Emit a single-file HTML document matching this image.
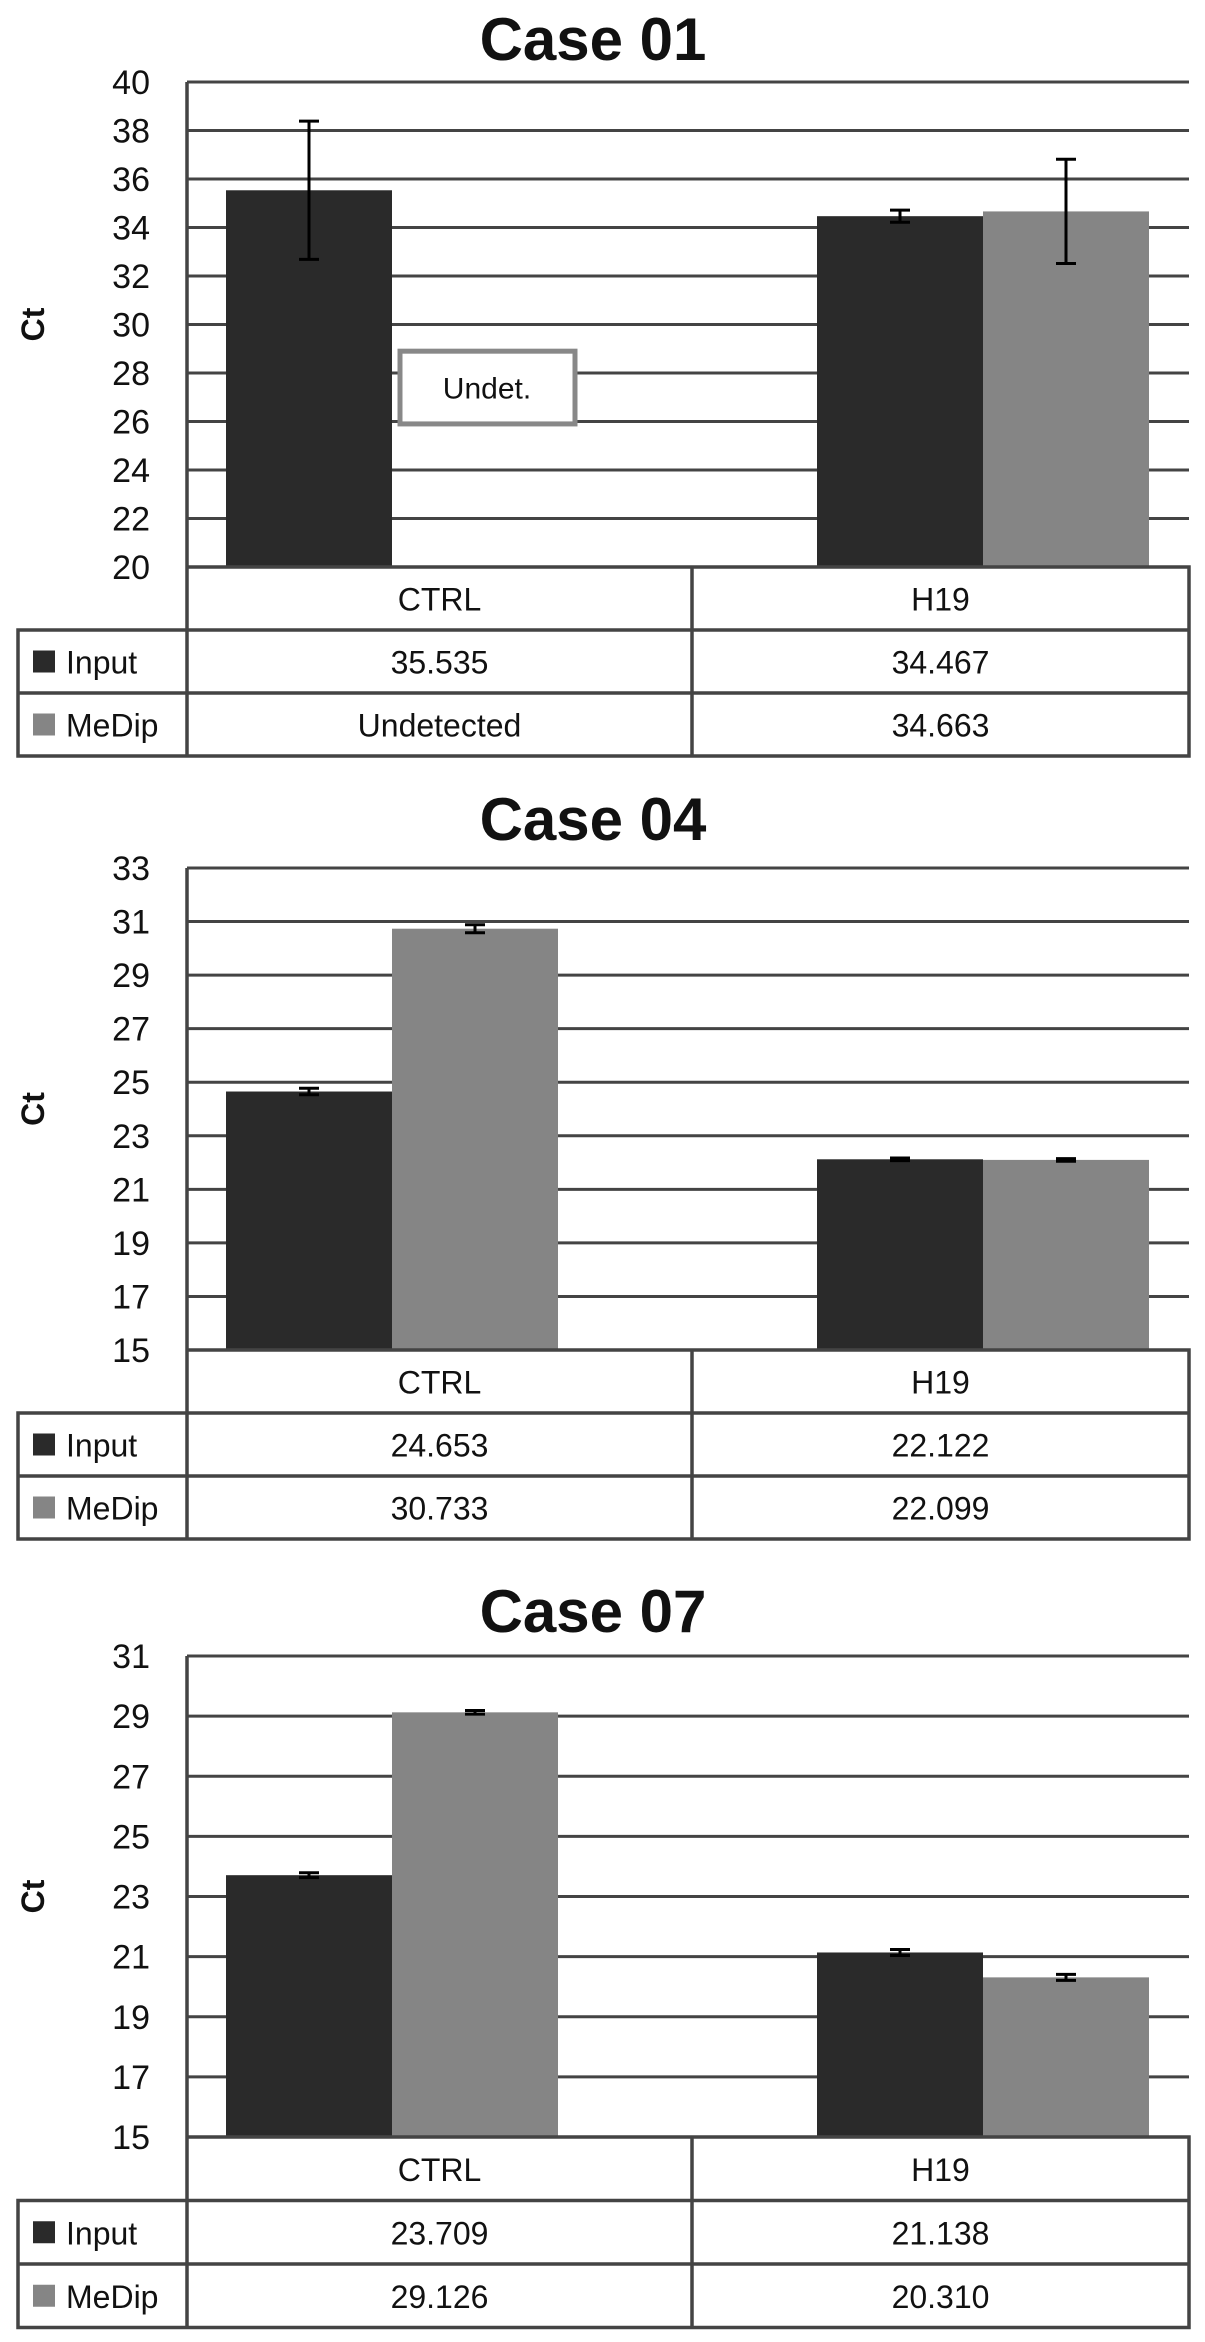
<!DOCTYPE html>
<html><head><meta charset="utf-8"><style>
html,body{margin:0;padding:0;background:#fff;}
svg{display:block;}
text{font-family:"Liberation Sans",sans-serif;fill:#111;}
</style></head><body>
<svg id="fig" width="1205" height="2342" viewBox="0 0 1205 2342"></svg>
<script>
const categories = ["CTRL","H19"];
const seriesNames = ["Input","MeDip"];
// Case 01
const case01Input = [35.535, 34.467];
const case01MeDip = [null, 34.663];
const case01InputErr = [2.85, 0.25];
const case01MeDipErr = [0, 2.15];
const case01InputLabels = ["35.535","34.467"];
const case01MeDipLabels = ["Undetected","34.663"];
const case01Ticks = [20,22,24,26,28,30,32,34,36,38,40];
// Case 04
const case04Input = [24.653, 22.122];
const case04MeDip = [30.733, 22.099];
const case04InputErr = [0.12, 0.05];
const case04MeDipErr = [0.15, 0.05];
const case04InputLabels = ["24.653","22.122"];
const case04MeDipLabels = ["30.733","22.099"];
const case04Ticks = [15,17,19,21,23,25,27,29,31,33];
// Case 07
const case07Input = [23.709, 21.138];
const case07MeDip = [29.126, 20.310];
const case07InputErr = [0.08, 0.1];
const case07MeDipErr = [0.06, 0.1];
const case07InputLabels = ["23.709","21.138"];
const case07MeDipLabels = ["29.126","20.310"];
const case07Ticks = [15,17,19,21,23,25,27,29,31];

const NS="http://www.w3.org/2000/svg";
const svg=document.getElementById('fig');
function mk(tag,attrs,parent){const e=document.createElementNS(NS,tag);for(const k in attrs)e.setAttribute(k,attrs[k]);(parent||svg).appendChild(e);return e;}

const L=187,R=1189,TL=18,COLDIV=692,BW=166;
const groupCenters=[392,983];
const colors=["#2a2a2a","#858585"];

function drawChart(id,title,titleY,top,bottom,ticks,inp,med,inpErr,medErr,inpLab,medLab,rowH,undet){
  const g=mk('g',{});
  
  
  const ymin=ticks[0],ymax=ticks[ticks.length-1];
  const y=v=>bottom-(v-ymin)/(ymax-ymin)*(bottom-top);
  const t=mk('text',{x:593,y:titleY,'text-anchor':'middle','font-size':60,'font-weight':'bold'},g);
  t.textContent=title;
  
  
  const yl=mk('text',{x:0,y:0,'text-anchor':'middle','font-size':32,'font-weight':'bold',transform:`translate(44,${(top+bottom)/2}) rotate(-90)`},g);
  yl.textContent="Ct";
  
  
  ticks.forEach(tv=>{
    const ln=mk('line',{x1:L,x2:R,y1:y(tv),y2:y(tv),stroke:'#444','stroke-width':3},g);
    
    
    const tx=mk('text',{x:150,y:y(tv)+12,'text-anchor':'end','font-size':34},g);
    tx.textContent=tv;
    
    
  });
  const series=[inp,med],errs=[inpErr,medErr];
  series.forEach((vals,s)=>{
    vals.forEach((v,i)=>{
      if(v==null) return;
      const x=groupCenters[i]+(s===0?-BW:0);
      const r=mk('rect',{x:x,y:y(v),width:BW,height:bottom-y(v),fill:colors[s]},g);
      
      
      const e=errs[s][i];
      if(e>0){
        const cx=x+BW/2;
        const eb=mk('path',{d:`M${cx},${y(v+e)}V${y(v-e)}M${cx-10},${y(v+e)}H${cx+10}M${cx-10},${y(v-e)}H${cx+10}`,stroke:'#000','stroke-width':3,fill:'none'},g);
        
        
      }
    });
  });
  if(undet){
    const b=mk('rect',{x:400,y:y(28.9),width:175,height:y(25.9)-y(28.9),fill:'#fff',stroke:'#888','stroke-width':5},g);
    
    
    const bt=mk('text',{x:487,y:(y(28.9)+y(25.9))/2+11,'text-anchor':'middle','font-size':30},g);
    bt.textContent="Undet.";
    
    
  }
  const r1=bottom+rowH, r2=r1+rowH, r3=r2+rowH;
  const tb=mk('path',{d:`M${L},${top}V${r3}M${L},${bottom}H${R}V${r3}H${TL}V${r1}H${R}M${TL},${r2}H${R}M${COLDIV},${bottom}V${r3}`,stroke:'#444','stroke-width':3.5,fill:'none'},g);
  
  
  const cc=[(L+COLDIV)/2,(COLDIV+R)/2];
  categories.forEach((c,i)=>{
    const tx=mk('text',{x:cc[i],y:bottom+rowH/2+12,'text-anchor':'middle','font-size':32},g);
    tx.textContent=c;
    
    
  });
  [inpLab,medLab].forEach((labs,s)=>{
    const ry=(s===0?r1:r2)+rowH/2;
    const sq=mk('rect',{x:33,y:ry-11,width:22,height:22,fill:colors[s]},g);
    
    
    const nm=mk('text',{x:66,y:ry+12,'font-size':32},g);
    nm.textContent=seriesNames[s];
    
    
    labs.forEach((lb,i)=>{
      const tx=mk('text',{x:cc[i],y:ry+12,'text-anchor':'middle','font-size':32},g);
      tx.textContent=lb;
      
      
    });
  });
}
drawChart('chart-case-01','Case 01',60,82,567,case01Ticks,case01Input,case01MeDip,case01InputErr,case01MeDipErr,case01InputLabels,case01MeDipLabels,63,true);
drawChart('chart-case-04','Case 04',840,868,1350,case04Ticks,case04Input,case04MeDip,case04InputErr,case04MeDipErr,case04InputLabels,case04MeDipLabels,63,false);
drawChart('chart-case-07','Case 07',1632,1656,2137,case07Ticks,case07Input,case07MeDip,case07InputErr,case07MeDipErr,case07InputLabels,case07MeDipLabels,63.5,false);
</script>
</body></html>
